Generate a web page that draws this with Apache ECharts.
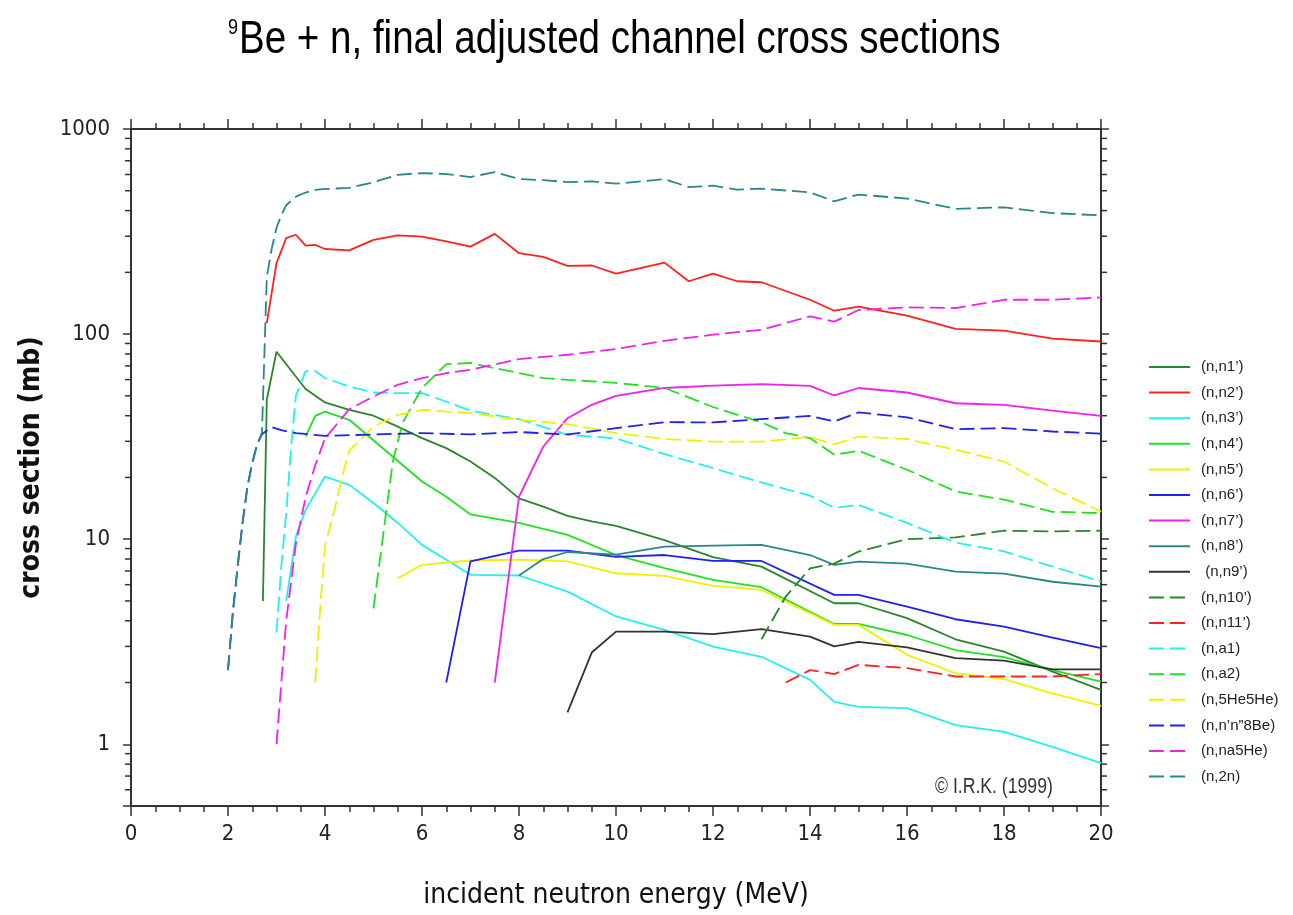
<!DOCTYPE html>
<html><head><meta charset="utf-8">
<script src="https://cdn.jsdelivr.net/npm/echarts@6/dist/echarts.min.js"></script>
<style>html,body{margin:0;padding:0;background:#fff}#c{width:1293px;height:915px}</style>
</head><body><div id="c"></div>
<script>
// ---------- data: [incident neutron energy (MeV), cross section (mb)] ----------
const nn1 = [[2.72,5.0],[2.8,48],[3.0,82],[3.6,54],[4.0,46.4],[4.5,42.7],[5.0,40],[5.5,35.4],[6.0,31.1],[6.5,27.8],[7.0,23.9],[7.5,19.9],[8.0,15.8],[8.5,14.4],[9.0,13.0],[9.5,12.2],[10,11.6],[11,9.9],[12,8.17],[13,7.35],[14.5,4.87],[15,4.87],[16,4.12],[17,3.25],[18,2.83],[19,2.26],[20,1.84]];
const nn2 = [[2.8,113],[3.0,222],[3.2,294],[3.4,305],[3.6,270],[3.8,272],[4.0,260],[4.5,256],[5.0,288],[5.5,303],[6.0,299],[6.5,283],[7.0,267],[7.5,308],[8.0,248],[8.5,238],[9.0,215],[9.5,216],[10,197],[11,223],[11.5,181],[12,197],[12.5,181],[13,179],[14,147],[14.5,130],[15,136],[16,123],[17,106],[18,104],[19,95],[20,92]];
const nn3 = [[3.2,5.0],[3.4,10.3],[3.6,13.9],[4.0,20.2],[4.5,18.4],[5.0,15.0],[5.5,12.0],[6.0,9.38],[6.5,7.93],[7.0,6.7],[8.0,6.65],[9.0,5.55],[10,4.2],[11,3.61],[12,2.99],[13,2.67],[14,2.06],[14.5,1.61],[15,1.52],[16,1.5],[17,1.24],[18,1.15],[19,0.97],[20,0.81]];
const nn4 = [[3.6,31.7],[3.8,39.9],[4.0,41.9],[4.5,38.2],[6.0,19.1],[6.5,16.1],[7.0,13.2],[8.0,12.0],[9.0,10.5],[10,8.37],[11,7.23],[12,6.33],[13,5.83],[14.5,3.86],[15,3.86],[16,3.41],[17,2.88],[18,2.66],[19,2.3],[20,2.02]];
const nn5 = [[5.5,6.45],[6.0,7.5],[7.0,7.87],[8.0,7.95],[9.0,7.8],[10,6.82],[11,6.62],[12,5.92],[13,5.66],[14.5,3.82],[15,3.82],[16,2.73],[17,2.22],[18,2.08],[19,1.77],[20,1.54]];
const nn6 = [[6.5,2.0],[7.0,7.8],[8.0,8.8],[9.0,8.8],[10,8.2],[11,8.37],[12,7.83],[13,7.83],[14.5,5.35],[15,5.35],[16,4.69],[17,4.07],[18,3.75],[19,3.31],[20,2.94]];
const nn7 = [[7.5,2.0],[8.0,16.1],[8.5,28.3],[9.0,38.9],[9.5,45.2],[10,50],[11,54.6],[12,56.1],[13,57],[14,55.9],[14.5,50.2],[15,54.6],[16,51.9],[17,46],[18,45.2],[19,42.3],[20,39.9]];
const nn8 = [[8.0,6.65],[8.5,8.0],[9.0,8.66],[10,8.4],[11,9.2],[12,9.3],[13,9.38],[14,8.37],[14.5,7.5],[15,7.78],[16,7.6],[17,6.95],[18,6.8],[19,6.2],[20,5.87]];
const nn9 = [[9.0,1.43],[9.5,2.8],[10,3.54],[11,3.54],[12,3.44],[13,3.64],[14,3.35],[14.5,3.0],[15,3.16],[16,2.97],[17,2.63],[18,2.56],[19,2.32],[20,2.32]];
const nn10 = [[13,3.25],[13.5,5.25],[14,7.2],[14.5,7.6],[15,8.7],[16,10.0],[17,10.2],[18,11.0],[19,10.9],[20,11.0]];
const nn11 = [[13.5,2.0],[14,2.3],[14.5,2.2],[15,2.44],[16,2.35],[17,2.14],[18,2.14],[19,2.14],[20,2.2]];
const na1 = [[3.0,3.5],[3.1,7.4],[3.2,13.4],[3.3,28],[3.4,50],[3.6,66],[3.8,66],[4.0,61],[4.5,55.5],[5.0,51.9],[5.5,51.5],[6.0,51.5],[6.5,46.9],[7.0,42.3],[8.0,38.5],[9.0,32.3],[10,31],[11,26],[12,22.2],[13,18.9],[14,16.3],[14.5,14.2],[15,14.7],[16,12],[17,9.63],[18,8.71],[19,7.35],[20,6.21]];
const na2 = [[5.0,4.6],[5.2,10.5],[5.4,24],[5.6,37],[6.0,54.6],[6.5,71.4],[7.0,72.3],[7.5,68.2],[8.0,64.5],[8.5,61],[9.0,59.8],[10,57.8],[11,54.6],[12,44.1],[13,37.1],[13.5,32.9],[14,31.1],[14.5,25.8],[15,27],[16,21.8],[17,17.1],[18,15.6],[19,13.6],[20,13.4]];
const n5he5he = [[3.8,2.0],[3.9,4.6],[4.0,9.3],[4.2,14],[4.35,20],[4.5,27],[5.0,35.4],[5.5,40.4],[6.0,42.7],[7.0,41.2],[8.0,38.2],[9.0,36.4],[10,32.9],[11,30.8],[12,29.9],[13,29.9],[14,31.5],[14.5,29],[15,31.6],[16,30.8],[17,27.3],[18,23.9],[19,17.7],[20,13.6]];
const nnn8be = [[2.0,2.3],[2.1,4.4],[2.2,7.4],[2.3,12],[2.4,18],[2.5,23.5],[2.6,29],[2.7,32.5],[2.9,35.2],[3.1,34],[3.4,32.9],[4.0,31.9],[5,32.4],[6,32.9],[7,32.4],[8,33.3],[9,32.4],[10,34.8],[11,37.2],[12,37.1],[13,38.5],[14,39.9],[14.5,37.5],[15,41.5],[16,39.3],[17,34.4],[18,34.8],[19,33.5],[20,32.7]];
const na5he = [[3.0,1.0],[3.1,2.0],[3.2,4.0],[3.4,9.5],[3.6,16],[3.8,23],[4.0,31],[4.5,43],[5.0,49.6],[5.5,56.6],[6.0,61],[6.5,64.5],[7.0,67],[8.0,75.5],[9.0,79.3],[10,84.5],[11,92.7],[12,99.3],[13,105],[14,122],[14.5,115],[15,131],[16,135],[17,134],[18,147],[19,147],[20,151]];
const n2n = [[2.0,2.3],[2.1,4.4],[2.2,7.4],[2.3,12],[2.4,18],[2.5,23.5],[2.6,29],[2.7,33],[2.8,190],[2.9,260],[3.0,330],[3.1,380],[3.2,425],[3.4,468],[3.6,490],[3.8,505],[4.0,510],[4.5,516],[5.0,550],[5.5,598],[6.0,610],[6.5,603],[7.0,583],[7.5,617],[8.0,570],[8.5,563],[9.0,551],[9.5,555],[10,541],[11,570],[11.5,521],[12,529],[12.5,506],[13,512],[14,491],[14.5,444],[15,479],[16,458],[17,408],[18,415],[19,389],[20,379]];

const seriesNames = ["(n,n1\u2019)","(n,n2\u2019)","(n,n3\u2019)","(n,n4\u2019)","(n,n5\u2019)","(n,n6\u2019)","(n,n7\u2019)","(n,n8\u2019)"," (n,n9\u2019)","(n,n10\u2019)","(n,n11\u2019)","(n,a1)","(n,a2)","(n,5He5He)","(n,n\u2019n\u201d8Be)","(n,na5He)","(n,2n)"];
const seriesData = [nn1,nn2,nn3,nn4,nn5,nn6,nn7,nn8,nn9,nn10,nn11,na1,na2,n5he5he,nnn8be,na5he,n2n];
const seriesColors = ['#2A862A','#FF2020','#22F0F0','#22E022','#F0F000','#2020F0','#F020F0','#2A8888','#333333','#2A862A','#FF2020','#22F0F0','#22E022','#F0F000','#2020F0','#F020F0','#2A8888'];
const seriesDashed = [false,false,false,false,false,false,false,false,false,true,true,true,true,true,true,true,true];

// minor log ticks on the y axes
const yMinorTicks = [0.6,0.7,0.8,0.9,2,3,4,5,6,7,8,9,20,30,40,50,60,70,80,90,200,300,400,500,600,700,800,900];

const COND = '"DejaVu Sans Condensed","Liberation Sans",sans-serif';
const REG = '"Liberation Sans",Arial,sans-serif';
const AX = '#333333';

const chart = echarts.init(document.getElementById('c'), null, {renderer:'canvas'});

const lineSeries = seriesData.map((d,i)=>({
  name: seriesNames[i],
  type: 'line',
  data: d,
  xAxisIndex: 0, yAxisIndex: 0,
  showSymbol: false, symbol: 'none',
  smooth: false,
  lineStyle: {color: seriesColors[i], width: 1.8, type: seriesDashed[i] ? [15,6] : 'solid'},
  itemStyle: {color: seriesColors[i]},
  emphasis: {disabled: true},
  z: 3
}));

const tickSeries = {
  name: 'minorTicks',
  type: 'custom',
  xAxisIndex: 0, yAxisIndex: 0,
  data: yMinorTicks.map(v=>[0,v]),
  clip: false, silent: true, z: 1,
  renderItem: function(params, api){
    const v = api.value(1);
    const pl = api.coord([0, v]);
    const pr = api.coord([20, v]);
    return {type:'group', children:[
      {type:'line', shape:{x1:pl[0]-6, y1:pl[1], x2:pl[0], y2:pl[1]}, style:{stroke:AX, lineWidth:1.5}},
      {type:'line', shape:{x1:pr[0], y1:pr[1], x2:pr[0]+6, y2:pr[1]}, style:{stroke:AX, lineWidth:1.5}}
    ]};
  }
};

const isPow10 = v => Math.abs(Math.log10(v) - Math.round(Math.log10(v))) < 1e-6;

const option = {
  animation: false,
  backgroundColor: '#ffffff',
  grid: {left: 131, top: 129, width: 970, height: 677, containLabel: false},
  legend: {
    orient: 'vertical',
    left: 1148, top: 359, padding: 0,
    itemWidth: 41, itemHeight: 14, itemGap: 9.6,
    data: seriesNames,
    selectedMode: false,
    itemStyle: {opacity: 0},
    lineStyle: {width: 2},
    textStyle: {fontFamily: REG, fontSize: 15, color: '#222', lineHeight: 16, padding: [0,0,0,6]}
  },
  xAxis: [{
    type: 'value', min: 0, max: 20, interval: 2, position: 'bottom',
    name: 'incident neutron energy (MeV)', nameLocation: 'middle', nameGap: 76,
    nameTextStyle: {fontFamily: COND, fontSize: 28, color: '#111'},
    axisLine: {show: true, onZero: false, lineStyle: {color: AX, width: 2}},
    axisTick: {show: true, inside: false, length: 10, lineStyle: {color: AX, width: 1.5}},
    minorTick: {show: true, splitNumber: 4, length: 6, lineStyle: {color: AX, width: 1.5}},
    axisLabel: {fontFamily: COND, fontSize: 22, color: '#222', margin: 17},
    splitLine: {show: false}
  },{
    type: 'value', min: 0, max: 20, interval: 2, position: 'top',
    axisLine: {show: true, onZero: false, lineStyle: {color: AX, width: 2}},
    axisTick: {show: true, inside: false, length: 10, lineStyle: {color: AX, width: 1.5}},
    minorTick: {show: true, splitNumber: 4, length: 6, lineStyle: {color: AX, width: 1.5}},
    axisLabel: {show: false},
    splitLine: {show: false}
  }],
  yAxis: [{
    type: 'log', logBase: 10, min: 0.5, max: 1000, position: 'left',
    name: 'cross section (mb)', nameLocation: 'middle', nameGap: 85, nameRotate: 90,
    nameTextStyle: {fontFamily: COND, fontSize: 28, fontWeight: 'bold', color: '#111'},
    axisLine: {show: true, onZero: false, lineStyle: {color: AX, width: 2}},
    axisTick: {show: true, inside: false, length: 8, lineStyle: {color: AX, width: 1.5}},
    axisLabel: {fontFamily: COND, fontSize: 22, color: '#222', margin: 21,
      formatter: v => isPow10(v) ? String(Math.round(v)) : ''},
    splitLine: {show: false}
  },{
    type: 'log', logBase: 10, min: 0.5, max: 1000, position: 'right',
    axisLine: {show: true, onZero: false, lineStyle: {color: AX, width: 2}},
    axisTick: {show: true, inside: false, length: 8, lineStyle: {color: AX, width: 1.5}},
    axisLabel: {show: false},
    splitLine: {show: false}
  }],
  graphic: [{
    type: 'text', x: 228, y: 28, scaleX: 0.82,
    style: {text: '9', font: '22px "Liberation Sans", Arial, sans-serif', fill: '#000', verticalAlign: 'middle', align: 'left'}
  },{
    type: 'text', x: 239, y: 40, scaleX: 0.82,
    style: {text: 'Be + n, final adjusted channel cross sections', font: '47px "Liberation Sans", Arial, sans-serif', fill: '#000', verticalAlign: 'middle', align: 'left'}
  },{
    type: 'text', x: 935, y: 787, scaleX: 0.82,
    style: {text: '\u00A9 I.R.K. (1999)', font: '21.5px "Liberation Sans", Arial, sans-serif', fill: '#333', verticalAlign: 'middle', align: 'left'}
  }],
  series: lineSeries.concat([tickSeries])
};
chart.setOption(option);
</script></body></html>
